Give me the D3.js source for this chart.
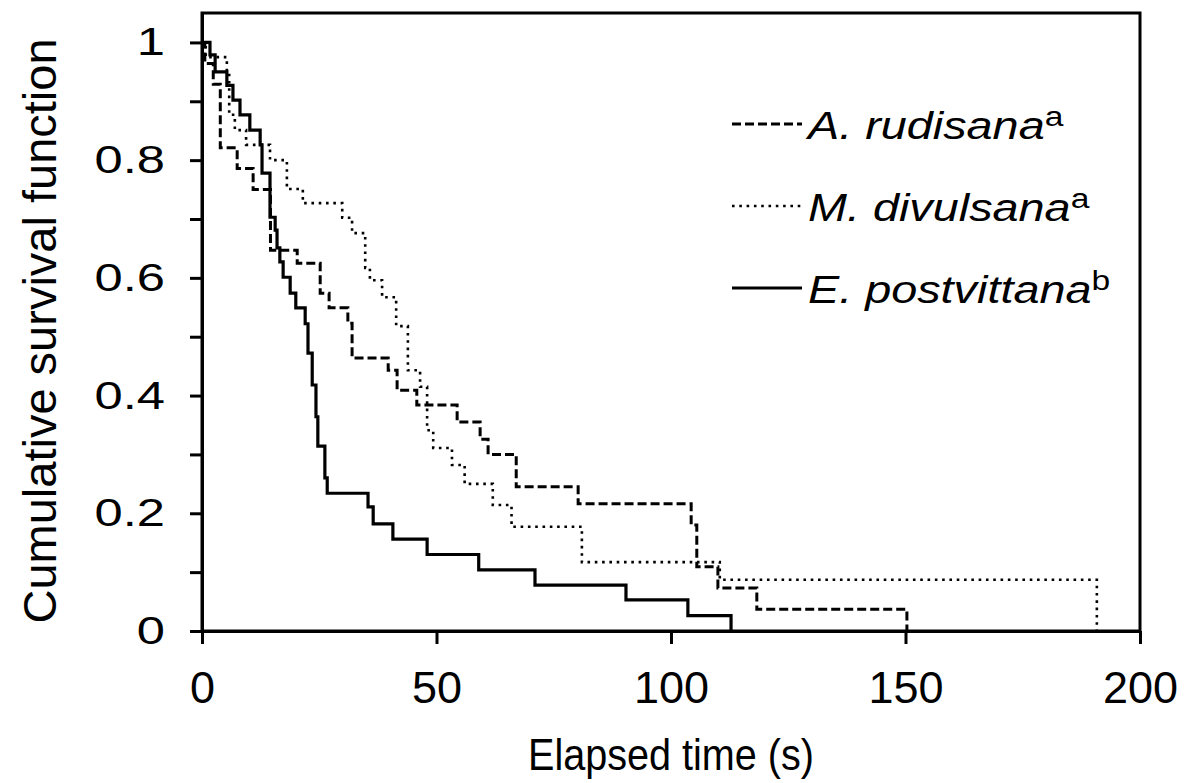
<!DOCTYPE html>
<html>
<head>
<meta charset="utf-8">
<script src="https://cdn.jsdelivr.net/npm/d3@7"></script>
<style>
  body { margin: 0; background: #fff; }
  svg { display: block; }
  text { font-family: Arial, "Liberation Sans", sans-serif; fill: #000; }
</style>
</head>
<body>
<svg id="myChart" width="1196" height="783"></svg>
<script>
// Kaplan-Meier steps: time (s) where the step happens, survival after it
const rudisanaTime = [0, 0.6, 2.4, 3.9, 7.5, 10.9, 14.6, 20.3, 25.2, 27.1, 31.1, 32.0, 39.7, 41.6, 45.8, 54.4, 59.3, 61, 67, 80.2, 104.3, 105.5, 110, 118.3, 150.3];
const rudisanaSurv = [1, 0.964, 0.929, 0.821, 0.786, 0.75, 0.647, 0.625, 0.574, 0.549, 0.523, 0.464, 0.443, 0.409, 0.384, 0.355, 0.326, 0.3, 0.245, 0.216, 0.18, 0.109, 0.073, 0.037, 0];

const divulsanaTime = [0, 0.8, 5.3, 5.8, 7.0, 9.4, 14.5, 18.1, 21.5, 29.9, 32.0, 34.8, 35.8, 38.4, 41.4, 43.9, 46.5, 48.0, 49.3, 53.3, 56, 62, 66, 81, 110.4, 190.8];
const divulsanaSurv = [1, 0.975, 0.95, 0.877, 0.851, 0.826, 0.8, 0.751, 0.727, 0.702, 0.676, 0.617, 0.596, 0.567, 0.518, 0.443, 0.415, 0.341, 0.311, 0.282, 0.25, 0.214, 0.177, 0.117, 0.087, 0];

const postvittanaTime = [0, 1.7, 2.8, 5.3, 6.6, 8.1, 10.2, 12.4, 12.8, 14.5, 15.6, 16.0, 16.6, 17.3, 18.8, 20.0, 22.0, 22.6, 23.5, 24.3, 24.7, 26.2, 26.7, 35.4, 36.5, 40.7, 48, 59, 71, 90.4, 103.6, 112.8];
const postvittanaSurv = [1, 0.979, 0.95, 0.927, 0.902, 0.877, 0.851, 0.826, 0.778, 0.703, 0.681, 0.651, 0.627, 0.601, 0.574, 0.549, 0.522, 0.472, 0.418, 0.364, 0.314, 0.26, 0.234, 0.211, 0.182, 0.156, 0.13, 0.104, 0.078, 0.053, 0.026, 0];

const seriesNames = ['A. rudisana', 'M. divulsana', 'E. postvittana'];
const seriesSup = ['a', 'a', 'b'];

const xTicks = [0, 50, 100, 150, 200];
const yMajorTicks = [0, 0.2, 0.4, 0.6, 0.8, 1];
const yTickLabels = ['0', '0.2', '0.4', '0.6', '0.8', '1'];
const yMinorTicks = [0.1, 0.3, 0.5, 0.7, 0.9];

const svg = d3.select('#myChart');

let xScale = d3.scaleLinear()
	.domain([0, 200])
	.range([202, 1140]);

let yScale = d3.scaleLinear()
	.domain([0, 1.05])
	.range([631, 13]);

// line styles for the three species
const styles = [
	{ width: 3, dash: '9 4' },
	{ width: 2.6, dash: '2.6 4.7' },
	{ width: 3.2, dash: null }
];

const series = [
	d3.zip(rudisanaTime, rudisanaSurv),
	d3.zip(divulsanaTime, divulsanaSurv),
	d3.zip(postvittanaTime, postvittanaSurv)
];

// frame around the plot
svg.append('rect')
	.attr('x', xScale(0))
	.attr('y', yScale(1.05))
	.attr('width', xScale(200) - xScale(0))
	.attr('height', yScale(0) - yScale(1.05))
	.attr('fill', 'none')
	.attr('stroke', '#000')
	.attr('stroke-width', 3);

// x axis
let xAxis = svg.append('g')
	.attr('transform', `translate(0, ${yScale(0)})`)
	.call(d3.axisBottom(xScale).tickValues(xTicks).tickSize(13).tickSizeOuter(0).tickPadding(25));
xAxis.select('.domain').attr('stroke-width', 3);
xAxis.selectAll('.tick line').attr('stroke-width', 3);
xAxis.selectAll('.tick text')
	.attr('font-size', 45)
	.attr('font-family', 'Arial, "Liberation Sans", sans-serif')
	.attr('dy', '0.75em');

// y axis, labelled majors plus unlabelled minors
let yAxis = svg.append('g')
	.attr('transform', `translate(${xScale(0)}, 0)`)
	.call(d3.axisLeft(yScale).tickValues(yMajorTicks).tickFormat((d, i) => yTickLabels[i])
		.tickSize(12).tickSizeOuter(0));
yAxis.select('.domain').attr('stroke-width', 3);
yAxis.selectAll('.tick line').attr('stroke-width', 3);
yAxis.selectAll('.tick text')
	.attr('font-size', 39)
	.attr('font-family', 'Arial, "Liberation Sans", sans-serif')
	.attr('x', -28.5)
	.attr('transform', 'scale(1.3, 1)');

svg.append('g')
	.attr('transform', `translate(${xScale(0)}, 0)`)
	.call(d3.axisLeft(yScale).tickValues(yMinorTicks).tickFormat('').tickSize(12).tickSizeOuter(0))
	.call(g => g.select('.domain').remove())
	.selectAll('.tick line').attr('stroke-width', 3);

// survival curves
let stepLine = d3.line()
	.x(d => xScale(d[0]))
	.y(d => yScale(d[1]))
	.curve(d3.curveStepAfter);

svg.selectAll('path.curve')
	.data(series)
	.enter()
	.append('path')
		.attr('class', 'curve')
		.attr('d', stepLine)
		.attr('fill', 'none')
		.attr('stroke', '#000')
		.attr('stroke-width', (d, i) => styles[i].width)
		.attr('stroke-dasharray', (d, i) => styles[i].dash);

// axis titles
let xMid = (xScale(0) + xScale(200)) / 2;
svg.append('text')
	.attr('transform', `translate(${xMid}, 770) scale(0.9, 1)`)
	.attr('text-anchor', 'middle')
	.attr('font-size', 44)
	.text('Elapsed time (s)');

svg.append('text')
	.attr('transform', `translate(56, 331) rotate(-90)`)
	.attr('text-anchor', 'middle')
	.attr('font-size', 47)
	.text('Cumulative survival function');

// legend
let legend = svg.append('g')
	.selectAll('g')
	.data(seriesNames)
	.enter()
	.append('g')
		.attr('transform', (d, i) => `translate(0, ${124 + i * 82})`);

legend.append('line')
	.attr('x1', 732)
	.attr('x2', 802)
	.attr('stroke', '#000')
	.attr('stroke-width', (d, i) => styles[i].width)
	.attr('stroke-dasharray', (d, i) => styles[i].dash);

let legendText = legend.append('text')
	.attr('x', 808)
	.attr('y', 15)
	.attr('font-size', 39)
	.attr('transform', 'translate(808, 0) scale(1.2, 1) translate(-808, 0)');

legendText.append('tspan')
	.attr('font-style', 'italic')
	.text(d => d);

legendText.append('tspan')
	.attr('font-size', 28)
	.attr('dy', -13)
	.text((d, i) => seriesSup[i]);
</script>
</body>
</html>
